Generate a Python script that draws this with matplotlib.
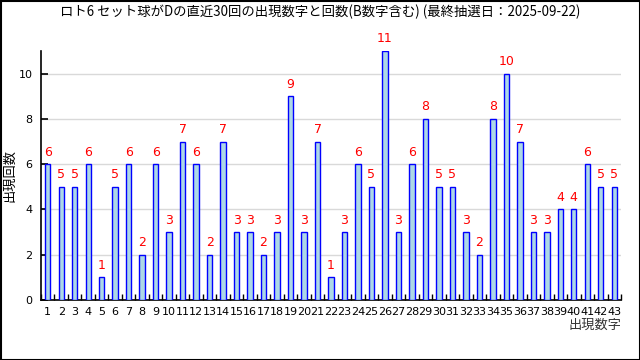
import matplotlib
matplotlib.use("Agg")
import matplotlib.pyplot as plt
from matplotlib.patches import Rectangle

plt.rcParams['font.family'] = ['Noto Sans CJK JP', 'DejaVu Sans']

numbers = list(range(1, 44))
counts = [6, 5, 5, 6, 1, 5, 6, 2, 6, 3, 7, 6, 2, 7, 3, 3, 2, 3, 9, 3, 7, 1, 3, 6, 5,
          11, 3, 6, 8, 5, 5, 3, 2, 8, 10, 7, 3, 3, 4, 4, 6, 5, 5]
title = "ロト6 セット球がDの直近30回の出現数字と回数(B数字含む) (最終抽選日：2025-09-22)"
xlabel = "出現数字"
ylabel = "出現回数"
yticks = [0, 2, 4, 6, 8, 10]

fig = plt.figure(figsize=(6.4, 3.6), dpi=100)
ax = fig.add_axes([41/640, 60/360, 580/640, 249/360])

ax.bar(numbers, counts, width=0.4, color='#add8e6', edgecolor='#0000ff', linewidth=1.0, zorder=3)
for n, c in zip(numbers, counts):
    ax.annotate(str(c), (n, c), xytext=(0, 4), textcoords='offset points',
                ha='center', va='bottom', color='red', fontsize=9, family='DejaVu Sans')

ax.set_xlim(0.5, 43.5)
ax.set_ylim(0, 11)
ax.set_yticks(yticks)
ax.yaxis.grid(True, color='#d9d9d9', linewidth=1, zorder=0)
ax.tick_params(axis='y', direction='in', length=5, width=1.2, labelsize=8, pad=6)
ax.set_xticks(numbers)
ax.set_xticklabels([str(n) for n in numbers], fontsize=8, family='DejaVu Sans')
ax.tick_params(axis='x', which='major', length=0, pad=5)
ax.set_xticks([n + 0.5 for n in numbers[:-1]] + [0.5, 43.5], minor=True)
ax.tick_params(axis='x', which='minor', direction='in', length=4, width=1)
for lab in ax.get_yticklabels():
    lab.set_family('DejaVu Sans')
ax.spines['top'].set_visible(False)
ax.spines['right'].set_visible(False)
ax.spines['left'].set_linewidth(1.2)
ax.spines['bottom'].set_linewidth(1.2)

fig.text(0.5, 1 - 12/360, title, ha='center', va='center', fontsize=9.6)
fig.text(621/640, 1 - 325/360, xlabel, ha='right', va='center', fontsize=9.5, color='#333333')
fig.text(10/640, 0.5 + 5/360, ylabel, ha='center', va='center', rotation=90, fontsize=9.5)

fig.patches.append(Rectangle((0.5/640, 0.5/360), 639/640, 359/360, transform=fig.transFigure,
                             fill=False, edgecolor='black', linewidth=1.5))
fig.savefig('out.png', dpi=100)
